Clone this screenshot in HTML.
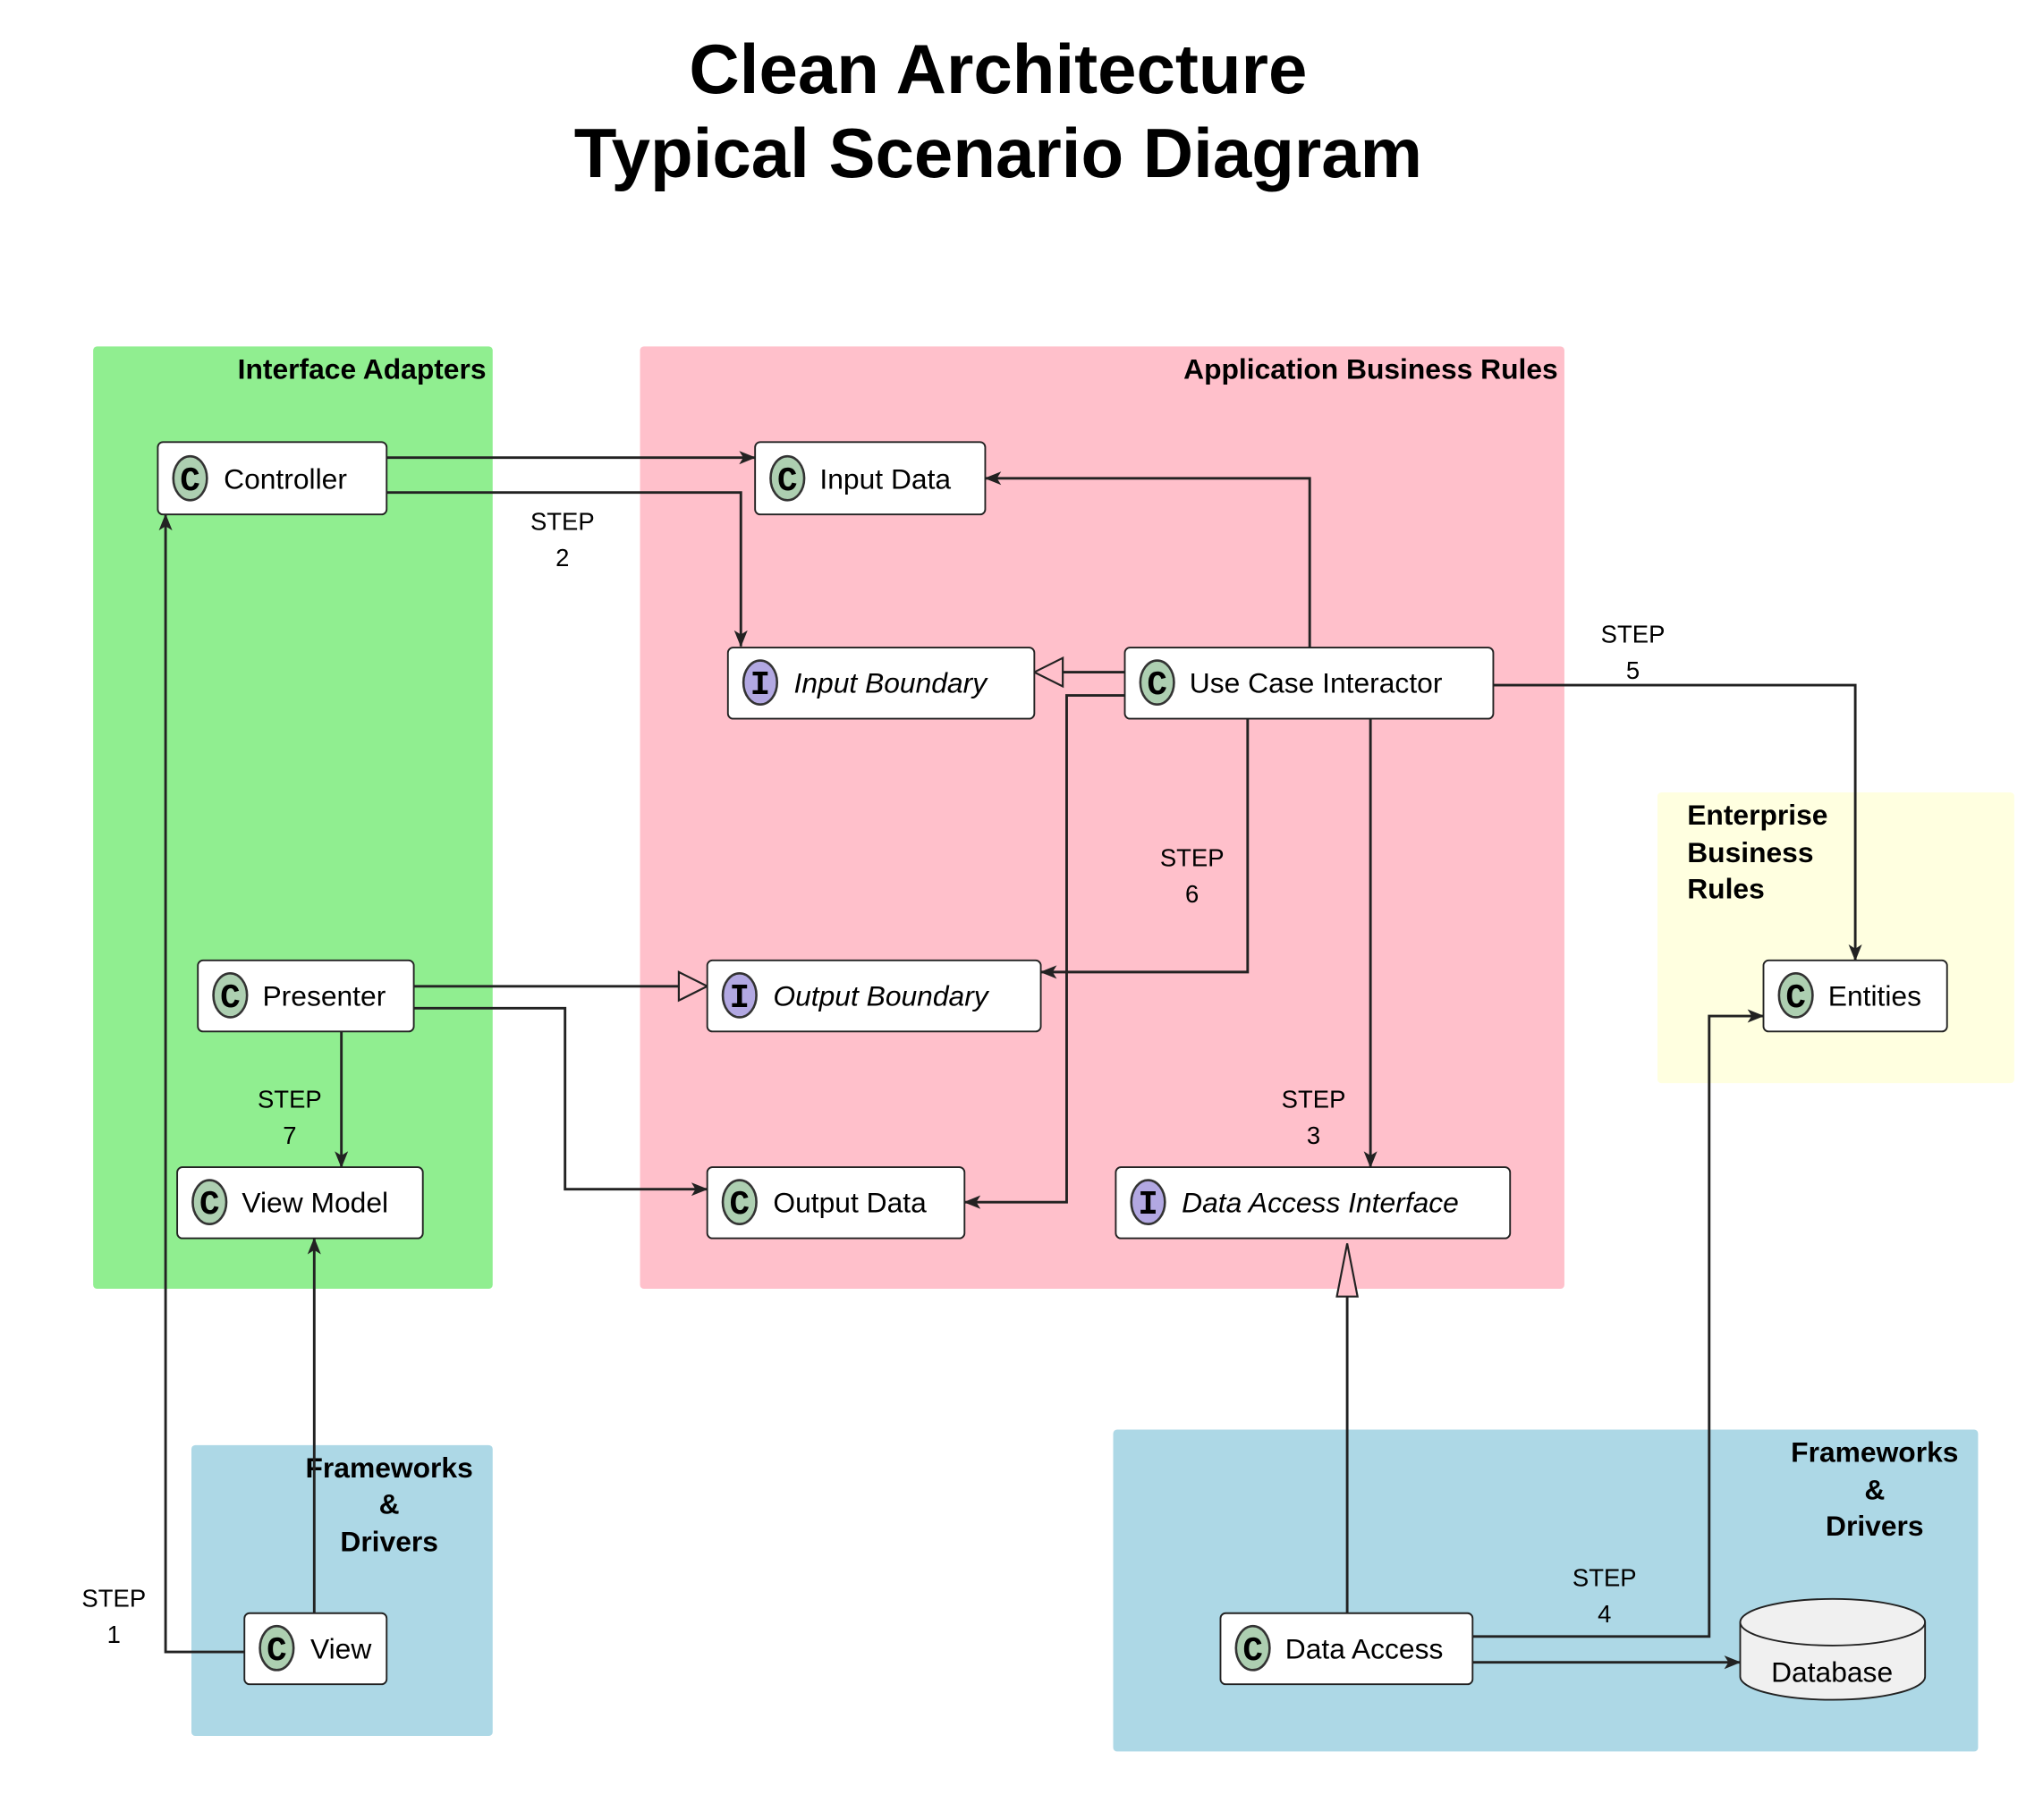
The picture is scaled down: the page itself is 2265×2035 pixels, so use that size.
<!DOCTYPE html>
<html><head><meta charset="utf-8"><style>
html,body{margin:0;padding:0;background:#fff;}
svg{display:block;}
text{font-family:"Liberation Sans","DejaVu Sans",sans-serif;fill:#000;}
.n{font-size:22px;}
.i{font-size:22px;font-style:italic;}
.s{font-size:19px;text-anchor:middle;}
.g{font-size:22px;font-weight:bold;}
.e{fill:none;stroke:#222;stroke-width:2;}
.b{fill:#fff;stroke:#222;stroke-width:1.3;}
.cc{fill:#adcfb1;stroke:#333;stroke-width:1.8;}
.ci{fill:#b2a8e2;stroke:#333;stroke-width:1.8;}
.ic{font-size:26px;font-weight:bold;text-anchor:middle;font-family:"Liberation Mono",monospace;}
</style></head><body>
<svg width="2265" height="2035" viewBox="0 0 1567 1408" xmlns="http://www.w3.org/2000/svg">
<defs>
<marker id="a" viewBox="0 0 20 20" refX="19" refY="10" markerWidth="13" markerHeight="13" markerUnits="userSpaceOnUse" orient="auto">
<path d="M0,2 L20,10 L0,18 L5,10 Z" fill="#222"/></marker>
</defs>
<text x="772" y="72" font-size="54" font-weight="bold" text-anchor="middle">Clean Architecture</text>
<text x="772" y="137" font-size="54" font-weight="bold" text-anchor="middle">Typical Scenario Diagram</text>

<rect x="72" y="268" width="309" height="729" rx="3" fill="#90ee90"/>
<rect x="495" y="268" width="715" height="729" rx="3" fill="#ffc0cb"/>
<rect x="1282" y="613" width="276" height="225" rx="3" fill="#ffffe0"/>
<rect x="148" y="1118" width="233" height="225" rx="3" fill="#add8e6"/>
<rect x="861" y="1106" width="669" height="249" rx="3" fill="#add8e6"/>

<text class="g" x="376" y="293" text-anchor="end">Interface Adapters</text>
<text class="g" x="1205" y="293" text-anchor="end">Application Business Rules</text>
<text class="g" x="1305" y="638">Enterprise</text>
<text class="g" x="1305" y="667">Business</text>
<text class="g" x="1305" y="695">Rules</text>
<text class="g" x="301" y="1143" text-anchor="middle">Frameworks</text>
<text class="g" x="301" y="1171" text-anchor="middle">&amp;</text>
<text class="g" x="301" y="1200" text-anchor="middle">Drivers</text>
<text class="g" x="1450" y="1131" text-anchor="middle">Frameworks</text>
<text class="g" x="1450" y="1160" text-anchor="middle">&amp;</text>
<text class="g" x="1450" y="1188" text-anchor="middle">Drivers</text>

<path class="e" d="M299,354 H584" marker-end="url(#a)"/>
<path class="e" d="M299,381 H573 V500" marker-end="url(#a)"/>
<path class="e" d="M1013,501 V370 H762" marker-end="url(#a)"/>
<path class="e" d="M870,520 H822"/>
<path d="M822,509 L800,520 L822,531 Z" fill="#ffc0cb" stroke="#222" stroke-width="1.5"/>
<path class="e" d="M870,538 H825 V930 H746" marker-end="url(#a)"/>
<path class="e" d="M965,556 V752 H805" marker-end="url(#a)"/>
<path class="e" d="M1155,530 H1435 V743" marker-end="url(#a)"/>
<path class="e" d="M1060,556 V903" marker-end="url(#a)"/>
<path class="e" d="M320,763 H525"/>
<path d="M525,752 L547,763 L525,774 Z" fill="#ffc0cb" stroke="#222" stroke-width="1.5"/>
<path class="e" d="M320,780 H437 V920 H547" marker-end="url(#a)"/>
<path class="e" d="M264,798 V903" marker-end="url(#a)"/>
<path class="e" d="M189,1278 H128 V398" marker-end="url(#a)"/>
<path class="e" d="M243,1248 V958" marker-end="url(#a)"/>
<path class="e" d="M1042,1248 V1003"/>
<path d="M1034,1003 L1042,962 L1050,1003 Z" fill="#ffc0cb" stroke="#222" stroke-width="1.5"/>
<path class="e" d="M1139,1266 H1322 V786 H1364" marker-end="url(#a)"/>
<path class="e" d="M1139,1286 H1346" marker-end="url(#a)"/>

<text class="s" x="435" y="410">STEP</text><text class="s" x="435" y="438">2</text>
<text class="s" x="922" y="670">STEP</text><text class="s" x="922" y="698">6</text>
<text class="s" x="1263" y="497">STEP</text><text class="s" x="1263" y="525">5</text>
<text class="s" x="1016" y="857">STEP</text><text class="s" x="1016" y="885">3</text>
<text class="s" x="224" y="857">STEP</text><text class="s" x="224" y="885">7</text>
<text class="s" x="88" y="1243">STEP</text><text class="s" x="88" y="1271">1</text>
<text class="s" x="1241" y="1227">STEP</text><text class="s" x="1241" y="1255">4</text>

<g>
<rect class="b" x="122" y="342" width="177" height="56" rx="4"/><ellipse class="cc" cx="147" cy="370" rx="13" ry="17"/><text class="ic" x="147" y="379">C</text><text class="n" x="173" y="378">Controller</text>
<rect class="b" x="584" y="342" width="178" height="56" rx="4"/><ellipse class="cc" cx="609" cy="370" rx="13" ry="17"/><text class="ic" x="609" y="379">C</text><text class="n" x="634" y="378">Input Data</text>
<rect class="b" x="563" y="501" width="237" height="55" rx="4"/><ellipse class="ci" cx="588" cy="528" rx="13" ry="17"/><text class="ic" x="588" y="537">I</text><text class="i" x="614" y="536">Input Boundary</text>
<rect class="b" x="870" y="501" width="285" height="55" rx="4"/><ellipse class="cc" cx="895" cy="528" rx="13" ry="17"/><text class="ic" x="895" y="537">C</text><text class="n" x="920" y="536">Use Case Interactor</text>
<rect class="b" x="153" y="743" width="167" height="55" rx="4"/><ellipse class="cc" cx="178" cy="770" rx="13" ry="17"/><text class="ic" x="178" y="779">C</text><text class="n" x="203" y="778">Presenter</text>
<rect class="b" x="547" y="743" width="258" height="55" rx="4"/><ellipse class="ci" cx="572" cy="770" rx="13" ry="17"/><text class="ic" x="572" y="779">I</text><text class="i" x="598" y="778">Output Boundary</text>
<rect class="b" x="1364" y="743" width="142" height="55" rx="4"/><ellipse class="cc" cx="1389" cy="770" rx="13" ry="17"/><text class="ic" x="1389" y="779">C</text><text class="n" x="1414" y="778">Entities</text>
<rect class="b" x="137" y="903" width="190" height="55" rx="4"/><ellipse class="cc" cx="162" cy="930" rx="13" ry="17"/><text class="ic" x="162" y="939">C</text><text class="n" x="187" y="938">View Model</text>
<rect class="b" x="547" y="903" width="199" height="55" rx="4"/><ellipse class="cc" cx="572" cy="930" rx="13" ry="17"/><text class="ic" x="572" y="939">C</text><text class="n" x="598" y="938">Output Data</text>
<rect class="b" x="863" y="903" width="305" height="55" rx="4"/><ellipse class="ci" cx="888" cy="930" rx="13" ry="17"/><text class="ic" x="888" y="939">I</text><text class="i" x="914" y="938">Data Access Interface</text>
<rect class="b" x="189" y="1248" width="110" height="55" rx="4"/><ellipse class="cc" cx="214" cy="1275" rx="13" ry="17"/><text class="ic" x="214" y="1284">C</text><text class="n" x="240" y="1283">View</text>
<rect class="b" x="944" y="1248" width="195" height="55" rx="4"/><ellipse class="cc" cx="969" cy="1275" rx="13" ry="17"/><text class="ic" x="969" y="1284">C</text><text class="n" x="994" y="1283">Data Access</text>
</g>
<path d="M1346,1255 V1297 A71.5,18 0 0 0 1489,1297 V1255 A71.5,18 0 0 0 1346,1255 Z" fill="#f0f0f0" stroke="#222" stroke-width="1.3"/>
<path d="M1346,1255 A71.5,18 0 0 0 1489,1255" fill="none" stroke="#222" stroke-width="1.3"/>
<text class="n" x="1417" y="1301" text-anchor="middle">Database</text>
</svg>
</body></html>
